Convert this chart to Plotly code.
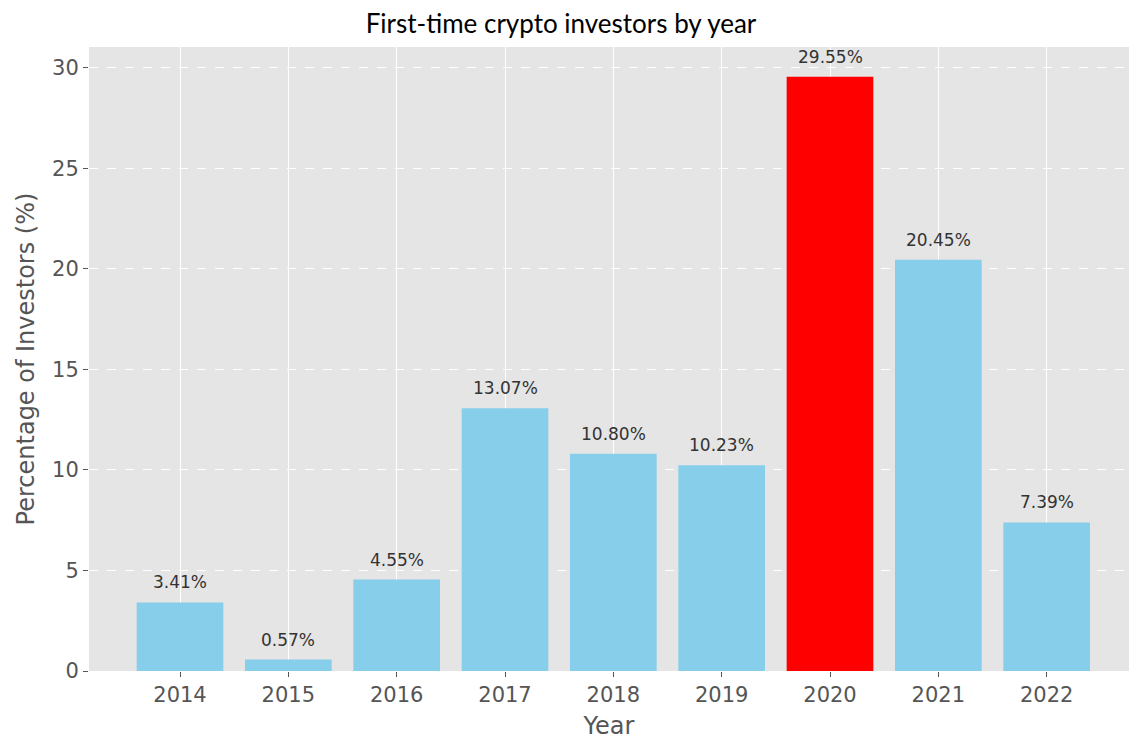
import plotly.graph_objects as go

# Share of first-time crypto investors by the year they started
years = [2014, 2015, 2016, 2017, 2018, 2019, 2020, 2021, 2022]
shares = [3.41, 0.57, 4.55, 13.07, 10.80, 10.23, 29.55, 20.45, 7.39]
peak_year = 2020

base_color = "#87CEEB"
peak_color = "#FF0000"
colors = [peak_color if y == peak_year else base_color for y in years]

tick_font = dict(family="DejaVu Sans", size=21, color="#555555")
axis_title_font = dict(family="DejaVu Sans", size=24, color="#555555")

fig = go.Figure(
    go.Bar(
        x=years,
        y=shares,
        width=0.8,
        marker=dict(color=colors, line=dict(width=0)),
        hoverinfo="skip",
    )
)

# Value labels above each bar
for y, v in zip(years, shares):
    fig.add_annotation(
        x=y, y=v, text=f"{v:.2f}%", showarrow=False,
        yanchor="middle", yshift=20,
        font=dict(family="DejaVu Sans", size=17, color="#333333"),
    )

fig.update_layout(
    width=1129,
    height=740,
    margin=dict(l=89, r=0, t=47, b=69),
    paper_bgcolor="white",
    plot_bgcolor="#E5E5E5",
    showlegend=False,
    title=dict(
        text="First-time crypto investors by year",
        x=561 / 1129, xref="container", xanchor="center",
        y=1 - 24 / 740, yref="container", yanchor="middle",
        font=dict(family="Lato", size=26, color="#000000"),
    ),
    xaxis=dict(
        range=[years[0] - 0.84, years[0] + 8.76],
        tickmode="array",
        tickvals=years,
        ticktext=[str(y) for y in years],
        ticks="outside", ticklen=5, tickwidth=1, tickcolor="#555555",
        tickfont=tick_font,
        showgrid=True, gridcolor="white", gridwidth=1,
        zeroline=False, showline=False,
        title=dict(text="Year", font=axis_title_font, standoff=12),
    ),
    yaxis=dict(
        range=[0, 31.03],
        tickmode="array",
        tickvals=[0, 5, 10, 15, 20, 25, 30],
        ticks="outside", ticklen=5, tickwidth=1, tickcolor="#555555",
        tickfont=tick_font,
        showgrid=True, gridcolor="white", gridwidth=1, griddash="dash",
        zeroline=False, showline=False,
        title=dict(text="Percentage of Investors (%)", font=axis_title_font, standoff=10),
    ),
)

fig.write_html("out.html")
